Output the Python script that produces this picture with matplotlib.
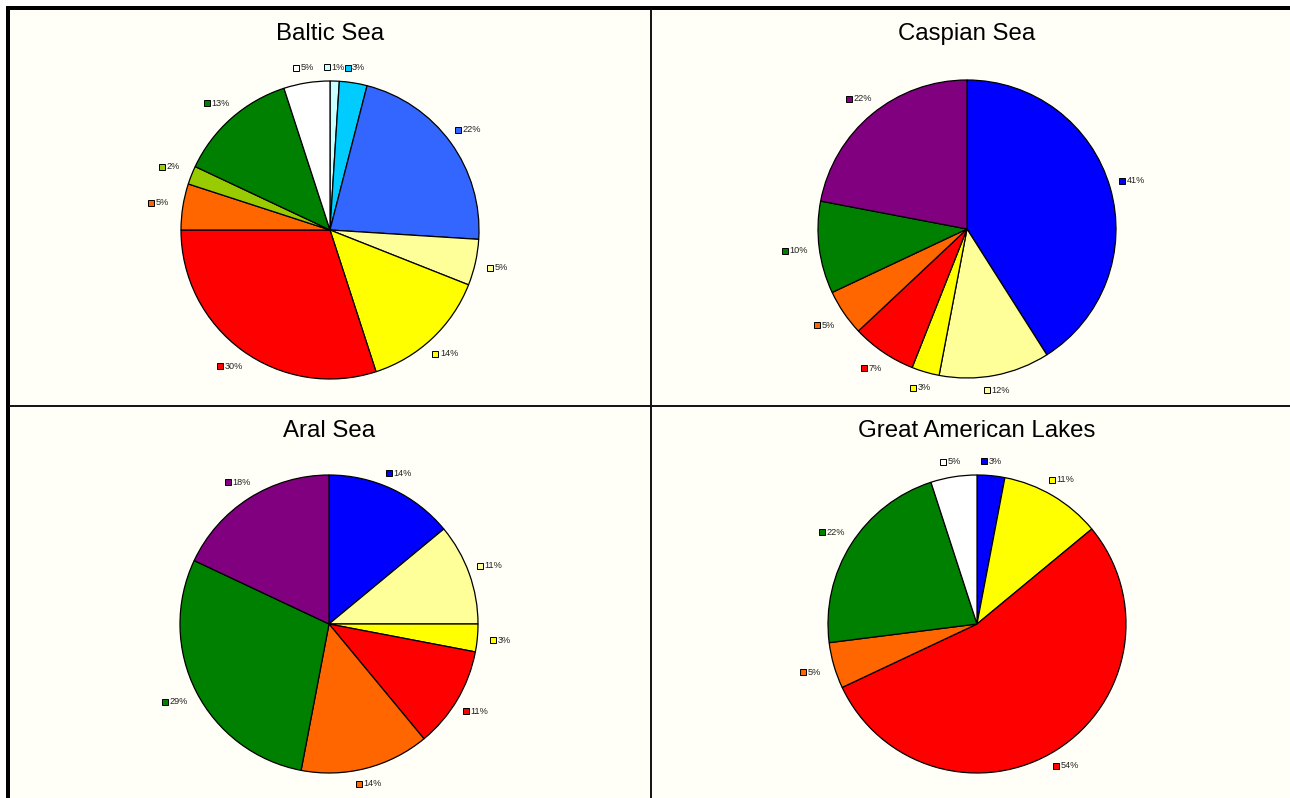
import numpy as np
import matplotlib

matplotlib.use("Agg")
import matplotlib.pyplot as plt
from matplotlib.patches import Rectangle

plt.rcParams["font.family"] = ["Liberation Sans", "DejaVu Sans"]

# shares (%) per water body, clockwise from 12 o'clock
baltic_vals = [1, 3, 22, 5, 14, 30, 5, 2, 13, 5]
baltic_cols = ["#CCFFFF", "#00CCFF", "#3366FF", "#FFFF99", "#FFFF00",
               "#FF0000", "#FF6600", "#99CC00", "#008000", "#FFFFFF"]

caspian_vals = [41, 12, 3, 7, 5, 10, 22]
caspian_cols = ["#0000FF", "#FFFF99", "#FFFF00", "#FF0000", "#FF6600", "#008000", "#800080"]

aral_vals = [14, 11, 3, 11, 14, 29, 18]
aral_cols = ["#0000FF", "#FFFF99", "#FFFF00", "#FF0000", "#FF6600", "#008000", "#800080"]

lakes_vals = [3, 11, 54, 5, 22, 5]
lakes_cols = ["#0000FF", "#FFFF00", "#FF0000", "#FF6600", "#008000", "#FFFFFF"]

titles = ["Baltic Sea", "Caspian Sea", "Aral Sea", "Great American Lakes"]

W, H = 1290, 798
R = 149.0        # pie radius, px
LIM = 1.45       # axes half-extent in pie radii
LABEL_PX = 9.2   # label font size, px
BG = "#FFFFF8"

fig = plt.figure(figsize=(W / 100, H / 100), dpi=100, facecolor="white")

# frame: cream panel area, heavy top/left rule, thin dividers
frame = fig.add_axes([0, 0, 1, 1], zorder=0)
frame.set_xlim(0, W)
frame.set_ylim(H, 0)
frame.axis("off")
frame.add_patch(Rectangle((6, 6), W, H, facecolor=BG, edgecolor="none"))
frame.fill_between([6, W], 6, 10, color="black", lw=0)
frame.fill_between([6, 10], 6, H, color="black", lw=0)
frame.plot([651, 651], [10, H], color="#111111", lw=1.4)
frame.plot([10, W], [405.5, 405.5], color="#111111", lw=1.4)


def draw_pie(cx, cy, ty, title, vals, cols):
    side = 2 * LIM * R
    ax = fig.add_axes([(cx - side / 2) / W, 1 - (cy + side / 2) / H, side / W, side / H], zorder=1)
    ax.pie(vals, colors=cols, startangle=90, counterclock=False, radius=1.0,
           wedgeprops=dict(edgecolor="black", linewidth=0.9))
    # pie() sets its own limits, so fix them afterwards
    ax.set_xlim(-LIM, LIM)
    ax.set_ylim(-LIM, LIM)
    ax.set_aspect("equal")
    ax.axis("off")

    total = float(sum(vals))
    start = 90.0
    px = 1.0 / R
    for v, c in zip(vals, cols):
        span = 360.0 * v / total
        mid = np.deg2rad(start - span / 2)
        start -= span
        txt = f"{v}%"
        ndig = len(txt) - 1
        tw = (0.556 * ndig + 0.889) * LABEL_PX
        bw = (5 + 3 + tw) * px
        rc = 1.09 + 0.07 * abs(np.cos(mid))
        bx, by = rc * np.cos(mid), rc * np.sin(mid)
        left = bx - bw / 2
        ax.plot(left + 2.5 * px, by, marker="s", ms=3.8, mfc=c, mec="black",
                mew=0.7, clip_on=False)
        ax.text(left + 7.0 * px, by, txt, fontsize=LABEL_PX * 0.72, color="#222222",
                ha="left", va="center")

    frame.text(cx, ty, title, fontsize=17.3, ha="center", va="baseline", color="black")


draw_pie(330, 230, 40, titles[0], baltic_vals, baltic_cols)
draw_pie(967, 229, 40, titles[1], caspian_vals, caspian_cols)
draw_pie(329, 624, 437, titles[2], aral_vals, aral_cols)
draw_pie(977, 624, 437, titles[3], lakes_vals, lakes_cols)

fig.savefig("out.png", dpi=100, facecolor=fig.get_facecolor())
